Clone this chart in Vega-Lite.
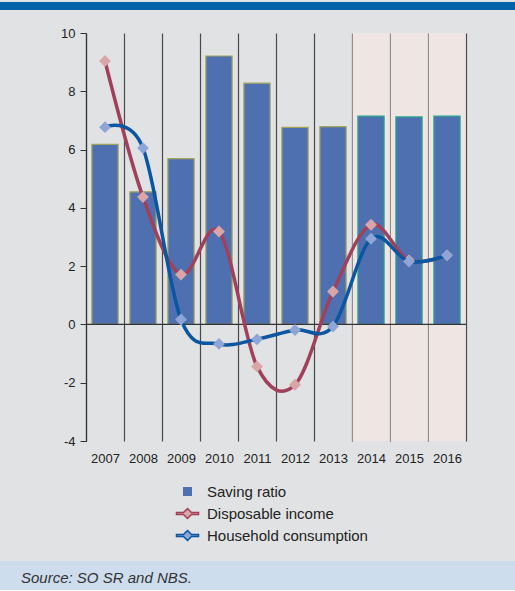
{
  "$schema": "https://vega.github.io/schema/vega-lite/v6.json",
  "padding": 0,
  "background": "#e1e2e4",
  "spacing": 16,
  "config": {"view": {"stroke": null}, "font": "Liberation Sans"},
  "datasets": {
    "main": [
      {"year": "2007", "saving": 6.18, "income": 9.04, "consumption": 6.77},
      {"year": "2008", "saving": 4.55, "income": 4.37, "consumption": 6.05},
      {"year": "2009", "saving": 5.69, "income": 1.71, "consumption": 0.17},
      {"year": "2010", "saving": 9.21, "income": 3.19, "consumption": -0.67},
      {"year": "2011", "saving": 8.28, "income": -1.44, "consumption": -0.51},
      {"year": "2012", "saving": 6.76, "income": -2.07, "consumption": -0.19},
      {"year": "2013", "saving": 6.79, "income": 1.13, "consumption": -0.07},
      {"year": "2014", "saving": 7.15, "income": 3.42, "consumption": 2.94},
      {"year": "2015", "saving": 7.12, "income": 2.2, "consumption": 2.16},
      {"year": "2016", "saving": 7.15, "income": 2.37, "consumption": 2.37}
    ],
    "note": [{"text": "Source: SO SR and NBS."}],
    "blank": [{"text": ""}]
  },
  "vconcat": [
    {
      "width": 515,
      "height": 8,
      "view": {"fill": "#0062a8", "stroke": null},
      "data": {"name": "blank"},
      "mark": {"type": "text"},
      "encoding": {"text": {"field": "text"}}
    },
    {
      "width": 466,
      "height": 408,
      "data": {"name": "main"},
      "encoding": {
        "x": {
          "field": "year",
          "type": "ordinal",
          "scale": {"range": [86, 466], "paddingInner": 0, "paddingOuter": 0},
          "axis": {
            "title": null,
            "domain": false,
            "ticks": false,
            "grid": true,
            "tickBand": "extent",
            "gridColor": "#4a4a4a",
            "gridWidth": 1.2,
            "labelAngle": 0,
            "labelFontSize": 13,
            "labelColor": "#222222",
            "labelPadding": 11,
            "minExtent": 104
          }
        }
      },
      "layer": [
        {
          "transform": [{"filter": "datum.year >= '2014'"}],
          "mark": {"type": "bar", "color": "#efe6e4", "width": {"band": 0.97}},
          "encoding": {
            "y": {
              "datum": 10,
              "type": "quantitative",
              "scale": {"domain": [-4, 10], "nice": false},
              "axis": {
                "title": null,
                "values": [-4, -2, 0, 2, 4, 6, 8, 10],
                "labelExpr": "'' + datum.value",
                "grid": false,
                "offset": -86,
                "minExtent": 0,
                "domainColor": "#333333",
                "domainWidth": 1.2,
                "tickColor": "#333333",
                "tickSize": 6,
                "labelFontSize": 13,
                "labelColor": "#222222",
                "labelPadding": 5
              }
            },
            "y2": {"datum": -4}
          }
        },
        {
          "mark": {"type": "bar", "width": {"band": 0.69}, "strokeWidth": 1.2},
          "encoding": {
            "y": {"field": "saving", "type": "quantitative", "scale": {"domain": [-4, 10], "nice": false}},
            "stroke": {"condition": {"test": "datum.year >= '2014'", "value": "#2aa68c"}, "value": "#a3a35a"},
            "color": {"datum": "Saving ratio", "type": "nominal"}
          }
        },
        {
          "mark": {"type": "rule", "color": "#333333", "strokeWidth": 1.3},
          "encoding": {
            "x": {"field": "year", "type": "ordinal", "bandPosition": 0},
            "x2": {"field": "year", "bandPosition": 1},
            "y": {"datum": 0, "type": "quantitative"}
          }
        },
        {
          "mark": {"type": "line", "interpolate": "cardinal", "color": "#a0405a", "strokeWidth": 3.5},
          "encoding": {"y": {"field": "income", "type": "quantitative", "scale": {"domain": [-4, 10], "nice": false}}}
        },
        {
          "mark": {"type": "point", "shape": "diamond", "filled": true, "size": 140, "opacity": 1},
          "encoding": {
            "y": {"field": "income", "type": "quantitative", "scale": {"domain": [-4, 10], "nice": false}},
            "color": {"datum": "Disposable income", "type": "nominal"}
          }
        },
        {
          "mark": {"type": "line", "interpolate": "cardinal", "color": "#0a56a0", "strokeWidth": 3.5},
          "encoding": {"y": {"field": "consumption", "type": "quantitative", "scale": {"domain": [-4, 10], "nice": false}}}
        },
        {
          "mark": {"type": "point", "shape": "diamond", "filled": true, "size": 140, "opacity": 1},
          "encoding": {
            "y": {"field": "consumption", "type": "quantitative", "scale": {"domain": [-4, 10], "nice": false}},
            "color": {"datum": "Household consumption", "type": "nominal"}
          }
        },
        {
          "transform": [{"filter": "false"}],
          "mark": {"type": "point", "filled": true},
          "encoding": {
            "y": {"field": "saving", "type": "quantitative", "scale": {"domain": [-4, 10], "nice": false}},
            "color": {
              "datum": "Saving ratio",
              "type": "nominal",
              "scale": {
                "domain": ["Saving ratio", "Disposable income", "Household consumption"],
                "range": ["#4f70b0", "#d9a5a7", "#8ea5d5"]
              },
              "legend": {
                "title": null,
                "orient": "none",
                "legendX": 180,
                "legendY": 482,
                "direction": "vertical",
                "labelFontSize": 15,
                "labelColor": "#222222",
                "labelFont": "Liberation Sans",
                "labelLimit": 300,
                "symbolSize": 81,
                "symbolStrokeWidth": 1.5,
                "symbolOpacity": 1,
                "labelOffset": 12,
                "rowPadding": 5
              }
            },
            "shape": {
              "datum": "Saving ratio",
              "type": "nominal",
              "scale": {
                "domain": ["Saving ratio", "Disposable income", "Household consumption"],
                "range": ["M-1,-1H1V1H-1Z", "M-2.45,-0.2H-0.9L0,-1.1L0.9,-0.2H2.45V0.2H0.9L0,1.1L-0.9,0.2H-2.45Z", "M-2.45,-0.2H-0.9L0,-1.1L0.9,-0.2H2.45V0.2H0.9L0,1.1L-0.9,0.2H-2.45Z"]
              },
              "legend": {
                "title": null,
                "orient": "none",
                "legendX": 180,
                "legendY": 482,
                "direction": "vertical",
                "labelFontSize": 15,
                "labelColor": "#222222",
                "labelFont": "Liberation Sans",
                "labelLimit": 300,
                "symbolSize": 81,
                "symbolStrokeWidth": 1.5,
                "symbolOpacity": 1,
                "labelOffset": 12,
                "rowPadding": 5
              }
            },
            "stroke": {
              "datum": "Saving ratio",
              "type": "nominal",
              "scale": {
                "domain": ["Saving ratio", "Disposable income", "Household consumption"],
                "range": ["transparent", "#a0405a", "#0a56a0"]
              },
              "legend": {
                "title": null,
                "orient": "none",
                "legendX": 180,
                "legendY": 482,
                "direction": "vertical",
                "labelFontSize": 15,
                "labelColor": "#222222",
                "labelFont": "Liberation Sans",
                "labelLimit": 300,
                "symbolSize": 81,
                "symbolStrokeWidth": 1.5,
                "symbolOpacity": 1,
                "labelOffset": 12,
                "rowPadding": 5
              }
            }
          }
        }
      ]
    },
    {
      "width": 515,
      "height": 29,
      "view": {"fill": "#cdddee", "stroke": null},
      "data": {"name": "note"},
      "mark": {"type": "text", "align": "left", "baseline": "middle", "fontStyle": "italic", "fontSize": 15, "color": "#333333", "font": "Liberation Sans"},
      "encoding": {"text": {"field": "text"}, "x": {"value": 21}, "y": {"value": 17}}
    }
  ]
}
